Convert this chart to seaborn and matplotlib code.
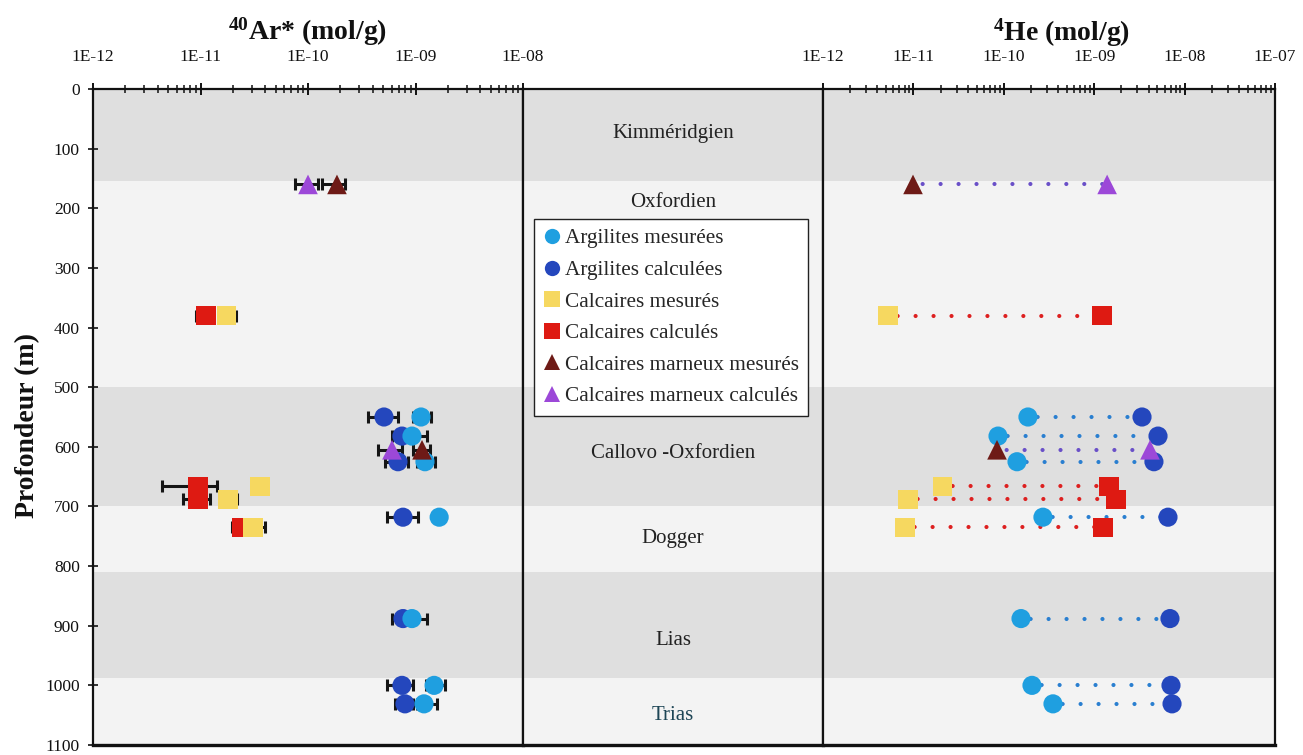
import numpy as np
import pandas as pd
import matplotlib
matplotlib.use("Agg")
import matplotlib.pyplot as plt
import matplotlib.transforms as mtransforms
from matplotlib.lines import Line2D
import seaborn as sns

# ---------------- data ----------------
depth_arg = [550, 582, 625, 718, 888, 1000, 1031]
depth_calc = [380, 666, 688, 735]
depth_marn = [160, 605]

# 40Ar* (mol/g)
ar_arg_mes = [1.125e-9, 9.27e-10, 1.225e-9, 1.66e-9, 9.27e-10, 1.49e-9, 1.2e-9]
ar_arg_mes_lo = [9.5e-10, 7.8e-10, 1.03e-9, 1.66e-9, 8.0e-10, 1.25e-9, 1.03e-9]
ar_arg_mes_hi = [1.39e-9, 1.28e-9, 1.52e-9, 1.66e-9, 1.28e-9, 1.88e-9, 1.58e-9]
ar_arg_calc = [5.09e-10, 7.48e-10, 6.87e-10, 7.65e-10, 7.65e-10, 7.48e-10, 7.98e-10]
ar_arg_calc_lo = [3.61e-10, 6.0e-10, 5.2e-10, 5.43e-10, 6.04e-10, 5.43e-10, 6.44e-10]
ar_arg_calc_hi = [6.87e-10, 9.0e-10, 8.5e-10, 1.055e-9, 9.0e-10, 9.48e-10, 9.5e-10]
ar_calc_mes = [1.73e-11, 3.58e-11, 1.80e-11, 3.08e-11]
ar_calc_mes_lo = [1.5e-11, 3.58e-11, 1.55e-11, 2.6e-11]
ar_calc_mes_hi = [2.14e-11, 3.58e-11, 2.19e-11, 3.98e-11]
ar_calc_calc = [1.125e-11, 9.48e-12, 9.48e-12, 2.40e-11]
ar_calc_calc_lo = [9.08e-12, 4.38e-12, 6.88e-12, 1.96e-11]
ar_calc_calc_hi = [1.3e-11, 1.42e-11, 1.225e-11, 2.7e-11]
ar_marn_mes = [1.86e-10, 1.15e-9]
ar_marn_mes_lo = [1.35e-10, 9.5e-10]
ar_marn_mes_hi = [2.21e-10, 1.36e-9]
ar_marn_calc = [1.0e-10, 6.04e-10]
ar_marn_calc_lo = [7.57e-11, 4.48e-10]
ar_marn_calc_hi = [1.24e-10, 7.5e-10]

# 4He (mol/g)
he_arg_mes = [1.85e-10, 8.63e-11, 1.40e-10, 2.71e-10, 1.55e-10, 2.05e-10, 3.50e-10]
he_arg_calc = [3.38e-9, 5.08e-9, 4.58e-9, 6.55e-9, 6.89e-9, 7.07e-9, 7.26e-9]
he_calc_mes = [5.24e-12, 2.12e-11, 8.71e-12, 8.07e-12]
he_calc_calc = [1.22e-9, 1.46e-9, 1.74e-9, 1.25e-9]
he_marn_mes = [9.9e-12, 8.41e-11]
he_marn_calc = [1.39e-9, 4.14e-9]

series_labels = ["Argilites mesurées", "Argilites calculées", "Calcaires mesurés",
                 "Calcaires calculés", "Calcaires marneux mesurés", "Calcaires marneux calculés"]

ar_ticks = [1e-12, 1e-11, 1e-10, 1e-9, 1e-8]
ar_ticklabels = ["1E-12", "1E-11", "1E-10", "1E-09", "1E-08"]
he_ticks = [1e-12, 1e-11, 1e-10, 1e-9, 1e-8, 1e-7]
he_ticklabels = ["1E-12", "1E-11", "1E-10", "1E-09", "1E-08", "1E-07"]
depth_ticks = list(range(0, 1101, 100))

formations = ["Kimméridgien", "Oxfordien", "Callovo -Oxfordien", "Dogger", "Lias", "Trias"]
formation_label_depth = [74, 191, 611, 753, 925, 1050]
band_top = [0, 155, 500, 700, 810, 988]
band_bottom = [155, 500, 700, 810, 988, 1100]
band_dark = [True, False, True, False, True, False]

# ---------------- style ----------------
sns.set_theme(style="white")
plt.rcParams["font.family"] = ["Liberation Serif", "DejaVu Serif"]
plt.rcParams["mathtext.default"] = "regular"

C_ARG_MES = "#1f9fe0"
C_ARG_CALC = "#2447bd"
C_CALC_MES = "#f6d860"
C_CALC_CALC = "#de1a12"
C_MARN_MES = "#6e1a16"
C_MARN_CALC = "#9c48d8"
C_DARK = "#dfdfdf"
C_LIGHT = "#f3f3f3"

W, H = 1303, 755
fig = plt.figure(figsize=(W / 100, H / 100), dpi=100)
y0 = 1 - 745 / H
hh = (745 - 89) / H
axL = fig.add_axes([93 / W, y0, 430 / W, hh])
axM = fig.add_axes([523 / W, y0, 300 / W, hh])
axR = fig.add_axes([823 / W, y0, 452 / W, hh])

for ax in (axL, axM, axR):
    ax.set_ylim(1100, 0)
    ax.set_facecolor(C_LIGHT)
    for t, b, d in zip(band_top, band_bottom, band_dark):
        ax.axhspan(t, b, color=C_DARK if d else C_LIGHT, lw=0, zorder=0)
    for s in ax.spines.values():
        s.set_color("#111111")
        s.set_linewidth(1.6)
    ax.spines["bottom"].set_linewidth(2.4)

MS = 190  # marker area (pt^2)


def scat(ax, x, y, color, marker, z):
    s = MS if marker != "^" else MS * 1.05
    sns.scatterplot(x=x, y=y, ax=ax, color=color, marker=marker, s=s,
                    edgecolor="none", linewidth=0, zorder=z, legend=False)


def errb(ax, v, lo, hi, d):
    v = np.array(v); lo = np.array(lo); hi = np.array(hi)
    ax.errorbar(v, d, xerr=[v - lo, hi - v], fmt="none", ecolor="#151515",
                elinewidth=2.2, capsize=4, capthick=2.2, zorder=3)

# ---------------- left panel: 40Ar ----------------
errb(axL, ar_arg_calc, ar_arg_calc_lo, ar_arg_calc_hi, depth_arg)
errb(axL, ar_arg_mes, ar_arg_mes_lo, ar_arg_mes_hi, depth_arg)
errb(axL, ar_calc_calc, ar_calc_calc_lo, ar_calc_calc_hi, depth_calc)
errb(axL, ar_calc_mes, ar_calc_mes_lo, ar_calc_mes_hi, depth_calc)
errb(axL, ar_marn_mes, ar_marn_mes_lo, ar_marn_mes_hi, depth_marn)
errb(axL, ar_marn_calc, ar_marn_calc_lo, ar_marn_calc_hi, depth_marn)
scat(axL, ar_arg_calc, depth_arg, C_ARG_CALC, "o", 4)
scat(axL, ar_arg_mes, depth_arg, C_ARG_MES, "o", 5)
scat(axL, ar_calc_calc, depth_calc, C_CALC_CALC, "s", 6)
scat(axL, ar_calc_mes, depth_calc, C_CALC_MES, "s", 7)
scat(axL, ar_marn_mes, depth_marn, C_MARN_MES, "^", 8)
scat(axL, ar_marn_calc, depth_marn, C_MARN_CALC, "^", 9)

# ---------------- right panel: 4He ----------------
DOT = (2, (0.01, 4.3))
for a, b, d in zip(he_arg_mes, he_arg_calc, depth_arg):
    axR.plot([a, b], [d, d], color="#2a7fd0", lw=3.0, ls=DOT, zorder=2,
             dash_capstyle="round")
for a, b, d in zip(he_calc_mes, he_calc_calc, depth_calc):
    axR.plot([a, b], [d, d], color="#dd2020", lw=3.0, ls=DOT, zorder=2,
             dash_capstyle="round")
for a, b, d in zip(he_marn_mes, he_marn_calc, depth_marn):
    axR.plot([a, b], [d, d], color="#6a50c8", lw=3.0, ls=DOT, zorder=2,
             dash_capstyle="round")
scat(axR, he_arg_mes, depth_arg, C_ARG_MES, "o", 4)
scat(axR, he_arg_calc, depth_arg, C_ARG_CALC, "o", 5)
scat(axR, he_calc_calc, depth_calc, C_CALC_CALC, "s", 6)
scat(axR, he_calc_mes, depth_calc, C_CALC_MES, "s", 7)
scat(axR, he_marn_mes, depth_marn, C_MARN_MES, "^", 8)
scat(axR, he_marn_calc, depth_marn, C_MARN_CALC, "^", 9)

# ---------------- axes formatting ----------------
for ax, lim, ticks, labels in ((axL, (1e-12, 1e-8), ar_ticks, ar_ticklabels),
                               (axR, (1e-12, 1e-7), he_ticks, he_ticklabels)):
    ax.set_xscale("log")
    ax.set_xlim(*lim)
    ax.xaxis.tick_top()
    ax.set_xticks(ticks)
    ax.set_xticklabels(labels)
    ax.xaxis.set_minor_locator(matplotlib.ticker.LogLocator(base=10, subs=np.arange(2, 10)))
    ax.xaxis.set_minor_formatter(matplotlib.ticker.NullFormatter())
    ax.tick_params(axis="x", which="major", direction="inout", length=9, width=1.4,
                   top=True, bottom=False, labeltop=True, labelbottom=False,
                   labelsize=12.5, pad=13, colors="#111111")
    ax.tick_params(axis="x", which="minor", direction="inout", length=6, width=1.1,
                   top=True, bottom=False, colors="#111111")
    ax.set_xlabel("")
    ax.set_ylabel("")

axL.set_yticks(depth_ticks)
axL.set_yticklabels([str(d) for d in depth_ticks])
axL.tick_params(axis="y", which="major", direction="inout", length=7, width=1.2,
                left=True, right=False, labelsize=12.5, pad=6, colors="#111111")
axR.set_yticks([])
axR.tick_params(axis="y", left=False, right=False, labelleft=False)
axM.set_xticks([])
axM.set_yticks([])
axM.set_xlim(0, 1)

tr = mtransforms.blended_transform_factory(axM.transAxes, axM.transData)
for name, d in zip(formations, formation_label_depth):
    axM.text(0.5, d, name, transform=tr, ha="center", va="center",
             fontsize=15, color="#1e4656" if name == "Trias" else "#222222", zorder=5)

# legend in middle panel
legend_style = {
    "Argilites mesurées": (C_ARG_MES, "o"),
    "Argilites calculées": (C_ARG_CALC, "o"),
    "Calcaires mesurés": (C_CALC_MES, "s"),
    "Calcaires calculés": (C_CALC_CALC, "s"),
    "Calcaires marneux mesurés": (C_MARN_MES, "^"),
    "Calcaires marneux calculés": (C_MARN_CALC, "^"),
}
handles = [Line2D([], [], linestyle="", marker=legend_style[l][1], color=legend_style[l][0],
                  markersize=11, markeredgewidth=0) for l in series_labels]
leg = axM.legend(handles, series_labels, loc="upper left",
                 bbox_to_anchor=(534 / W, 1 - 219 / H), bbox_transform=fig.transFigure,
                 frameon=True, fancybox=False, edgecolor="#222222", facecolor="white",
                 fontsize=15.3, handlelength=0.8, handletextpad=0.2, labelspacing=0.55,
                 borderpad=0.45, borderaxespad=0, framealpha=1)
leg.get_frame().set_linewidth(1.0)
leg.set_zorder(20)

# titles & axis label
fig.text(308 / W, 1 - 32 / H, r"$^{40}$Ar* (mol/g)", ha="center", va="center",
         fontsize=20, fontweight="bold", color="#111111")
fig.text(1062 / W, 1 - 33 / H, r"$^{4}$He (mol/g)", ha="center", va="center",
         fontsize=20, fontweight="bold", color="#111111")
fig.text(28 / W, 1 - 425 / H, "Profondeur (m)", ha="center", va="center",
         rotation=90, fontsize=20, fontweight="bold", color="#111111")

fig.savefig("out.png", dpi=100, facecolor="white")
